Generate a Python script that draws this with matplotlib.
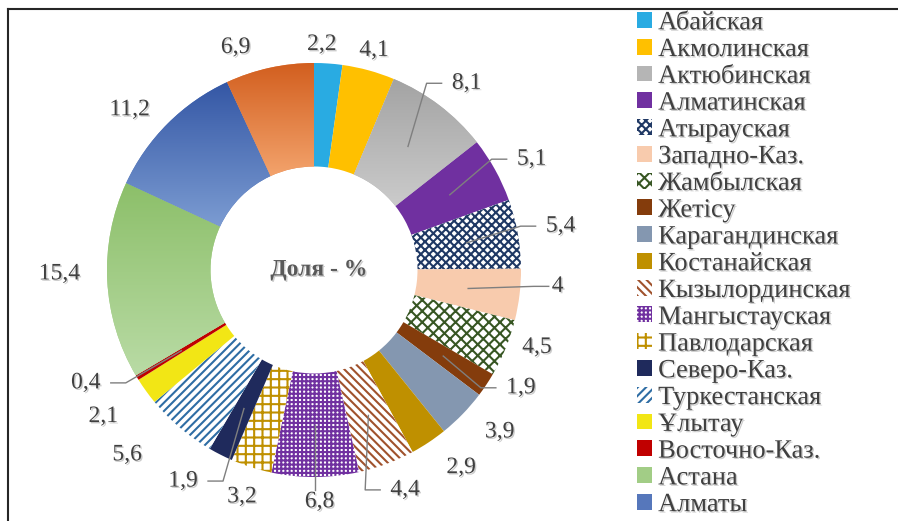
import numpy as np
import matplotlib
matplotlib.use("Agg")
import matplotlib.pyplot as plt
import matplotlib.patheffects as pe
from matplotlib.colors import LinearSegmentedColormap
from matplotlib.lines import Line2D

plt.rcParams['font.family'] = ['Liberation Serif', 'DejaVu Serif']
plt.rcParams['hatch.linewidth'] = 1.5

# Regions in clockwise order from 12 o'clock
regions = ["Абайская", "Акмолинская", "Актюбинская", "Алматинская", "Атырауская",
           "Западно-Каз.", "Жамбылская", "Жетісу", "Карагандинская", "Костанайская",
           "Кызылординская", "Мангыстауская", "Павлодарская", "Северо-Каз.",
           "Туркестанская", "Ұлытау", "Восточно-Каз.", "Астана", "Алматы", "Шымкент"]
shares = [2.2, 4.1, 8.1, 5.1, 5.4, 4, 4.5, 1.9, 3.9, 2.9,
          4.4, 6.8, 3.2, 1.9, 5.6, 2.1, 0.4, 15.4, 11.2, 6.9]
share_labels = ["2,2", "4,1", "8,1", "5,1", "5,4", "4", "4,5", "1,9", "3,9", "2,9",
                "4,4", "6,8", "3,2", "1,9", "5,6", "2,1", "0,4", "15,4", "11,2", "6,9"]
n_legend = 19  # the last region is not shown in the legend

# fill style per region: (face, hatch colour, hatch, gradient top, gradient bottom)
styles = [
    ("#29ABE2", None, None, None, None),
    ("#FFC000", None, None, None, None),
    ("#B5B5B5", None, None, "#A3A3A3", "#CBCBCB"),
    ("#7030A0", None, None, None, None),
    ("white", "#1F3864", "xxxx", None, None),
    ("#F8CBAD", None, None, None, None),
    ("white", "#375623", "xxx", None, None),
    ("#843C0C", None, None, None, None),
    ("#8497B0", None, None, None, None),
    ("#BF9000", None, None, None, None),
    ("white", "#A0522D", "\\\\\\\\", None, None),
    ("white", "#7030A0", "++++", None, None),
    ("white", "#BF9000", "++", None, None),
    ("#1F2A5C", None, None, None, None),
    ("white", "#2E6DA4", "////", None, None),
    ("#F2E615", None, None, None, None),
    ("#C00000", None, None, None, None),
    ("#A2CD86", None, None, "#8CBF69", "#B9DBA5"),
    ("#5677BB", None, None, "#3457A5", "#7C9CD2"),
    ("#E3834A", None, None, "#D25E1E", "#F3A36C"),
]

# label placement: radius factor and angle nudge (deg, clockwise), leader line flag
label_r = [1.09, 1.10, 1.165, 1.18, 1.21, 1.18, 1.14, 1.15, 1.19, 1.19,
           1.15, 1.12, 1.15, 1.20, 1.27, 1.24, 1.23, 1.23, 1.18, 1.14]
label_da = [-2, 0, 2, 2, 0, -3, -3, -4, -3, -3, -2, -1, 0, 5, 5, 1, 5, 2, -4, -7]
leader = [0, 0, 1, 1, 1, 1, 0, 1, 0, 0, 1, 1, 0, 1, 0, 0, 1, 0, 0, 0]

W, H = 898, 521
cx, cy, R = 314, 251, 207
txt_col = "#404040"
shadow = [pe.withSimplePatchShadow(offset=(1, -1), shadow_rgbFace="#9a9a9a", alpha=0.5)]

fig = plt.figure(figsize=(W / 100, H / 100), dpi=100)
ax = fig.add_axes([0, 0, 1, 1])

wedges, _ = ax.pie(shares, startangle=90, counterclock=False, radius=R,
                   center=(cx, cy), wedgeprops=dict(width=R * 0.5, linewidth=0))
ax.set_aspect('auto')
ax.axis('off')

for w, (face, hcol, hatch, gtop, gbot) in zip(wedges, styles):
    w.set_facecolor(face)
    if hatch:
        w.set_hatch(hatch)
        w.set_edgecolor(hcol)
        w.set_linewidth(0)
    if gtop:
        ext = w.get_path().get_extents()
        cmap = LinearSegmentedColormap.from_list("g", [gbot, gtop])
        grad = np.linspace(0, 1, 256).reshape(-1, 1)
        im = ax.imshow(grad, cmap=cmap, origin='lower', aspect='auto', zorder=2,
                       extent=[ext.x0, ext.x1, ext.y0, ext.y1], interpolation='bilinear')
        im.set_clip_path(w)

ax.set_xlim(0, W)
ax.set_ylim(0, H)

# data labels and leader lines
for i, w in enumerate(wedges):
    mid = np.deg2rad((w.theta1 + w.theta2) / 2 - label_da[i])
    lx = cx + R * label_r[i] * np.cos(mid)
    ly = cy + R * label_r[i] * np.sin(mid)
    ax.text(lx, ly, share_labels[i], ha='center', va='center', fontsize=17,
            color=txt_col, path_effects=shadow, zorder=5)
    if leader[i]:
        mid0 = np.deg2rad((w.theta1 + w.theta2) / 2)
        sx = cx + 0.75 * R * np.cos(mid0)
        sy = cy + 0.75 * R * np.sin(mid0)
        if abs(np.cos(mid0)) < 0.05:
            xs, ys = [sx, sx], [sy, ly + 12]
        else:
            side = 1 if lx > cx else -1
            half = 8 * len(share_labels[i]) - 2
            ex = lx - side * (half + 3)
            xs = [sx, ex - side * 15, ex]
            ys = [sy, ly, ly]
        ax.plot(xs, ys, color="#7f7f7f", lw=1, zorder=4)

ax.text(cx + 5, cy, "Доля - %", ha='center', va='center', fontsize=17,
        fontweight='bold', color="#595959", path_effects=shadow, zorder=5)

leg = ax.legend(wedges[:n_legend], regions[:n_legend], loc='upper left',
                bbox_to_anchor=(637 / W, 1 - 12 / H), frameon=False, fontsize=19,
                handlelength=0.55, handleheight=0.55, handletextpad=0.25,
                labelspacing=0.17, borderaxespad=0, borderpad=0)
for t in leg.get_texts():
    t.set_color(txt_col)
    t.set_path_effects(shadow)

# outer frame (top and left edges only are in view)
ax.add_line(Line2D([8 / W, 1], [1 - 9 / H, 1 - 9 / H], transform=ax.transAxes,
                   color="#262626", lw=1.5))
ax.add_line(Line2D([8 / W, 8 / W], [0, 1 - 9 / H], transform=ax.transAxes,
                   color="#262626", lw=1.5))

fig.savefig("out.png", dpi=100)
